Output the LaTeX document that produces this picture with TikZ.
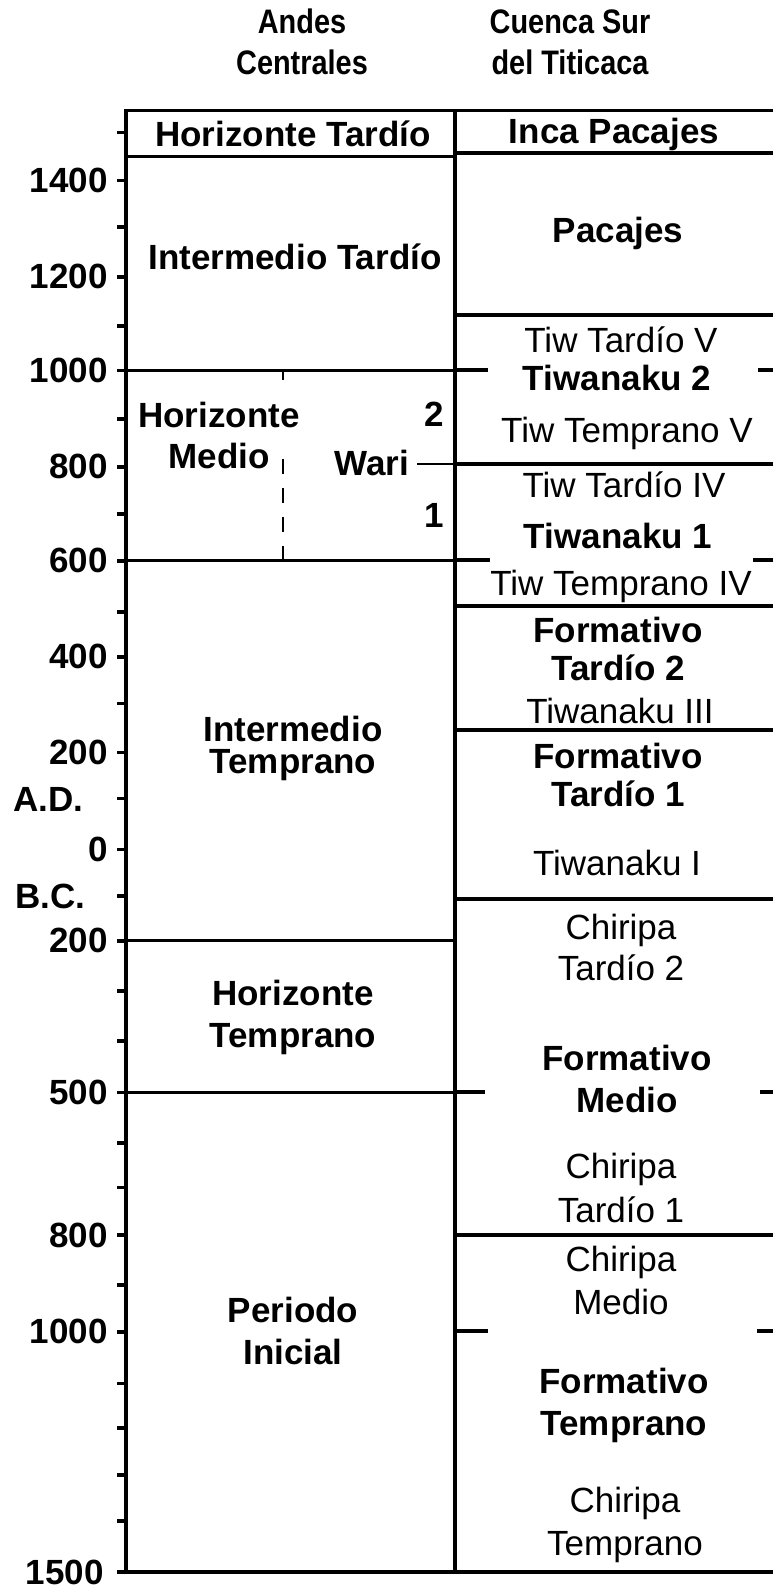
\documentclass[tikz,border=0pt]{standalone}
\usepackage{fontspec}
\setmainfont{Liberation Sans}
\newfontfamily\hdrfont[FakeStretch=0.85]{Liberation Sans}
\begin{document}
\begin{tikzpicture}[x=0.5pt,y=-0.5pt,
  lab/.style={inner sep=0pt, align=center, anchor=base},
  bt/.style={lab, font=\fontsize{17.5}{#1}\selectfont\bfseries},
  bt/.default=21,
  rt/.style={lab, font=\fontsize{17.5}{#1}\selectfont},
  rt/.default=21,
  ax/.style={inner sep=0pt, anchor=east, font=\fontsize{17.5}{21}\selectfont\bfseries},
  hd/.style={lab, font=\hdrfont\fontsize{17}{20.5}\selectfont\bfseries},
  frameline/.style={line width=1.8pt},
  divline/.style={line width=1.6pt},
  thinline/.style={line width=1.2pt},
  dashline/.style={line width=1.3pt, dash pattern=on 7.5pt off 7pt},
]
\useasboundingbox (0,0) rectangle (773,1589);

% headers (base anchor = last line baseline)
\node[hd] (hA) at (302,74.5) {Andes\\Centrales};
\node[hd] (hB) at (570,74.5) {Cuenca Sur\\del Titicaca};

% frame
\draw[frameline] (773,110.7) -- (126,110.7) -- (126,1572) -- (773,1572);
\draw[divline] (455,110.7) -- (455,1572);

% axis ticks
\foreach \t in {132.7,180.7,227,276.7,326,370.5,419,466.7,514,560.7,611.7,656.7,703.3,752.3,798.3,849.3,896,940.7,990.7,1040.7,1092.3,1142.7,1187.3,1235,1285,1331.7,1383.3,1428,1475,1520.7,1572}
  \draw[frameline] (117,\t) -- (126,\t);

% axis labels
\node[ax] (y1400) at (108,180.7) {1400};
\node[ax] (y1200) at (108,276.7) {1200};
\node[ax] (y1000) at (108,370.5) {1000};
\node[ax] (y800) at (108,466.7) {800};
\node[ax] (y600) at (108,560.7) {600};
\node[ax] (y400) at (108,656.7) {400};
\node[ax] (y200) at (108,752.3) {200};
\node[ax, anchor=west] (AD) at (13,799.5) {A.D.};
\node[ax] (y0) at (108,849.3) {0};
\node[ax, anchor=west] (BC) at (15,896.5) {B.C.};
\node[ax] (b200) at (108,940.7) {200};
\node[ax] (b500) at (108,1092.3) {500};
\node[ax] (b800) at (108,1235) {800};
\node[ax] (b1000) at (108,1331.7) {1000};
\node[ax] (b1500) at (104,1572) {1500};

% left column lines
\draw[divline] (126,156.7) -- (455,156.7);
\draw[divline] (126,370.5) -- (455,370.5);
\draw[divline] (126,560.7) -- (455,560.7);
\draw[divline] (126,940.7) -- (455,940.7);
\draw[divline] (126,1092.3) -- (455,1092.3);

% Horizonte Medio dashed divider
\draw[dashline] (283,560.7) -- (283,458.7);
\draw[line width=1.3pt] (283,370.5) -- (283,379.5);
% Wari line
\draw[thinline] (417,464) -- (455,464);

% right column lines
\draw[divline] (455,153) -- (773,153);
\draw[divline] (455,315) -- (773,315);
\draw[divline] (455,370) -- (488,370);
\draw[divline] (758,370) -- (773,370);
\draw[divline] (455,464) -- (773,464);
\draw[divline] (455,560) -- (490,560);
\draw[divline] (753,560) -- (773,560);
\draw[divline] (455,606) -- (773,606);
\draw[divline] (455,730) -- (773,730);
\draw[divline] (455,899) -- (773,899);
\draw[divline] (455,1092) -- (485,1092);
\draw[divline] (760,1092) -- (773,1092);
\draw[divline] (455,1235) -- (773,1235);
\draw[divline] (455,1331) -- (488,1331);
\draw[divline] (757,1331) -- (773,1331);

% left column texts
\node[bt] (hTard) at (293,146.5) {Horizonte Tardío};
\node[bt] (iTard) at (295,269.5) {Intermedio Tardío};
\node[bt=20.75] (hMed) at (219,468.5) {Horizonte\\Medio};
\node[bt] (w2) at (434,426.5) {2};
\node[bt] (wari) at (372,475.5) {Wari};
\node[bt] (w1) at (434,527) {1};
\node[bt=16] (iTemp) at (293,773.5) {Intermedio\\Temprano};
\node[bt] (hTemp) at (293,1047.5) {Horizonte\\Temprano};
\node[bt] (pIni) at (293,1364.5) {Periodo\\Inicial};

% right column texts
\node[bt] (incaP) at (614,143.5) {Inca Pacajes};
\node[bt] (pac) at (618,242.5) {Pacajes};
\node[rt] (ttV) at (621,352) {Tiw Tardío V};
\node[bt] (tiw2) at (617,390) {Tiwanaku 2};
\node[rt] (tteV) at (627,442) {Tiw Temprano V};
\node[rt] (ttIV) at (624,497) {Tiw Tardío IV};
\node[bt] (tiw1) at (618,548) {Tiwanaku 1};
\node[rt] (tteIV) at (621,595) {Tiw Temprano IV};
\node[bt=19] (ft2) at (618,680) {Formativo\\Tardío 2};
\node[rt] (tIII) at (620,723) {Tiwanaku III};
\node[bt=19] (ft1) at (618,806) {Formativo\\Tardío 1};
\node[rt] (tI) at (617,875) {Tiwanaku I};
\node[rt=20.5] (ct2) at (621,980) {Chiripa\\Tardío 2};
\node[bt] (fm) at (627,1112.5) {Formativo\\Medio};
\node[rt=22] (ct1) at (621,1222) {Chiripa\\Tardío 1};
\node[rt=21.25] (cm) at (621,1314) {Chiripa\\Medio};
\node[bt] (fte) at (624,1435.5) {Formativo\\Temprano};
\node[rt=21.5] (cte) at (625,1555) {Chiripa\\Temprano};
\end{tikzpicture}
\end{document}
